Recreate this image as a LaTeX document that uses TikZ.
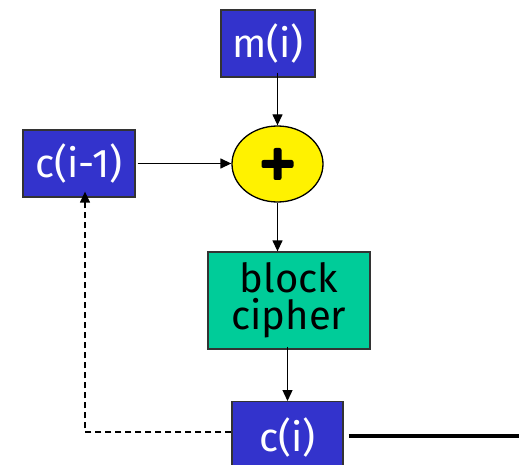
\documentclass[tikz,border=0pt]{standalone}
\usepackage{fontspec}
\setmainfont{Fira Sans}
\usetikzlibrary{arrows.meta,shapes.geometric,calc}
\definecolor{boxblue}{HTML}{3333CC}
\definecolor{ciphergreen}{HTML}{00CC99}
\begin{document}
\begin{tikzpicture}[x=1pt,y=-1pt,
  bluebox/.style={draw=black!80, fill=boxblue, text=white, minimum width=#1, minimum height=67pt, inner sep=0pt, line width=1.3pt, font=\fontsize{40}{42}\selectfont},
  conn/.style={-{Triangle[length=11pt,width=10pt]}, line width=1.3pt},
]
\clip (0,0) rectangle (519,465);
\fill[white] (0,0) rectangle (519,465);
\node[bluebox=94pt] (m) at (268,43.5) {m(i)};
\node[bluebox=112pt] (cp) at (79,163.5) {c(i-1)};
\node[draw=black, fill=yellow, ellipse, minimum width=91pt, minimum height=76pt, inner sep=0pt, line width=1.3pt] (x) at (277.5,164) {};
\fill[black, rounded corners=2pt] ($(x)+(-16,-4)$) rectangle ($(x)+(16,4)$);
\fill[black, rounded corners=2pt] ($(x)+(-4,-16)$) rectangle ($(x)+(4,16)$);
\node[draw=black!80, fill=ciphergreen, minimum width=162pt, minimum height=97pt, inner sep=0pt, line width=1.3pt, align=center, font=\fontsize{40}{37}\selectfont] (bc) at (289,300.5) {block\\cipher};
\node[draw=black!80, fill=boxblue, minimum width=111pt, minimum height=100pt, inner sep=0pt, line width=1.3pt, anchor=north] (c) at (287.5,401) {};
\node[text=white, font=\fontsize{40}{42}\selectfont, inner sep=0pt] (clabel) at (287.5,437) {c(i)};
\coordinate (end) at (519,436);
\coordinate (corner) at (85,432);
\draw[conn] ([yshift=5pt]x.north |- m.south) -- (x.north);
\draw[conn] ([xshift=2pt]cp.east) -- (cp.east -| x.west);
\draw[conn] (x.south) -- (x.south |- bc.north);
\draw[conn] ([yshift=3pt]c.north |- bc.south) -- (c.north);
\draw[line width=4.5pt] ([xshift=5pt]c.east |- end) -- (end);
\draw[dashed, dash pattern=on 6pt off 4pt, line width=1.3pt, -{Triangle[length=11pt,width=10pt]}] (c.west |- corner) -- (corner) -- ([yshift=6pt]corner |- cp.south);
\end{tikzpicture}
\end{document}
